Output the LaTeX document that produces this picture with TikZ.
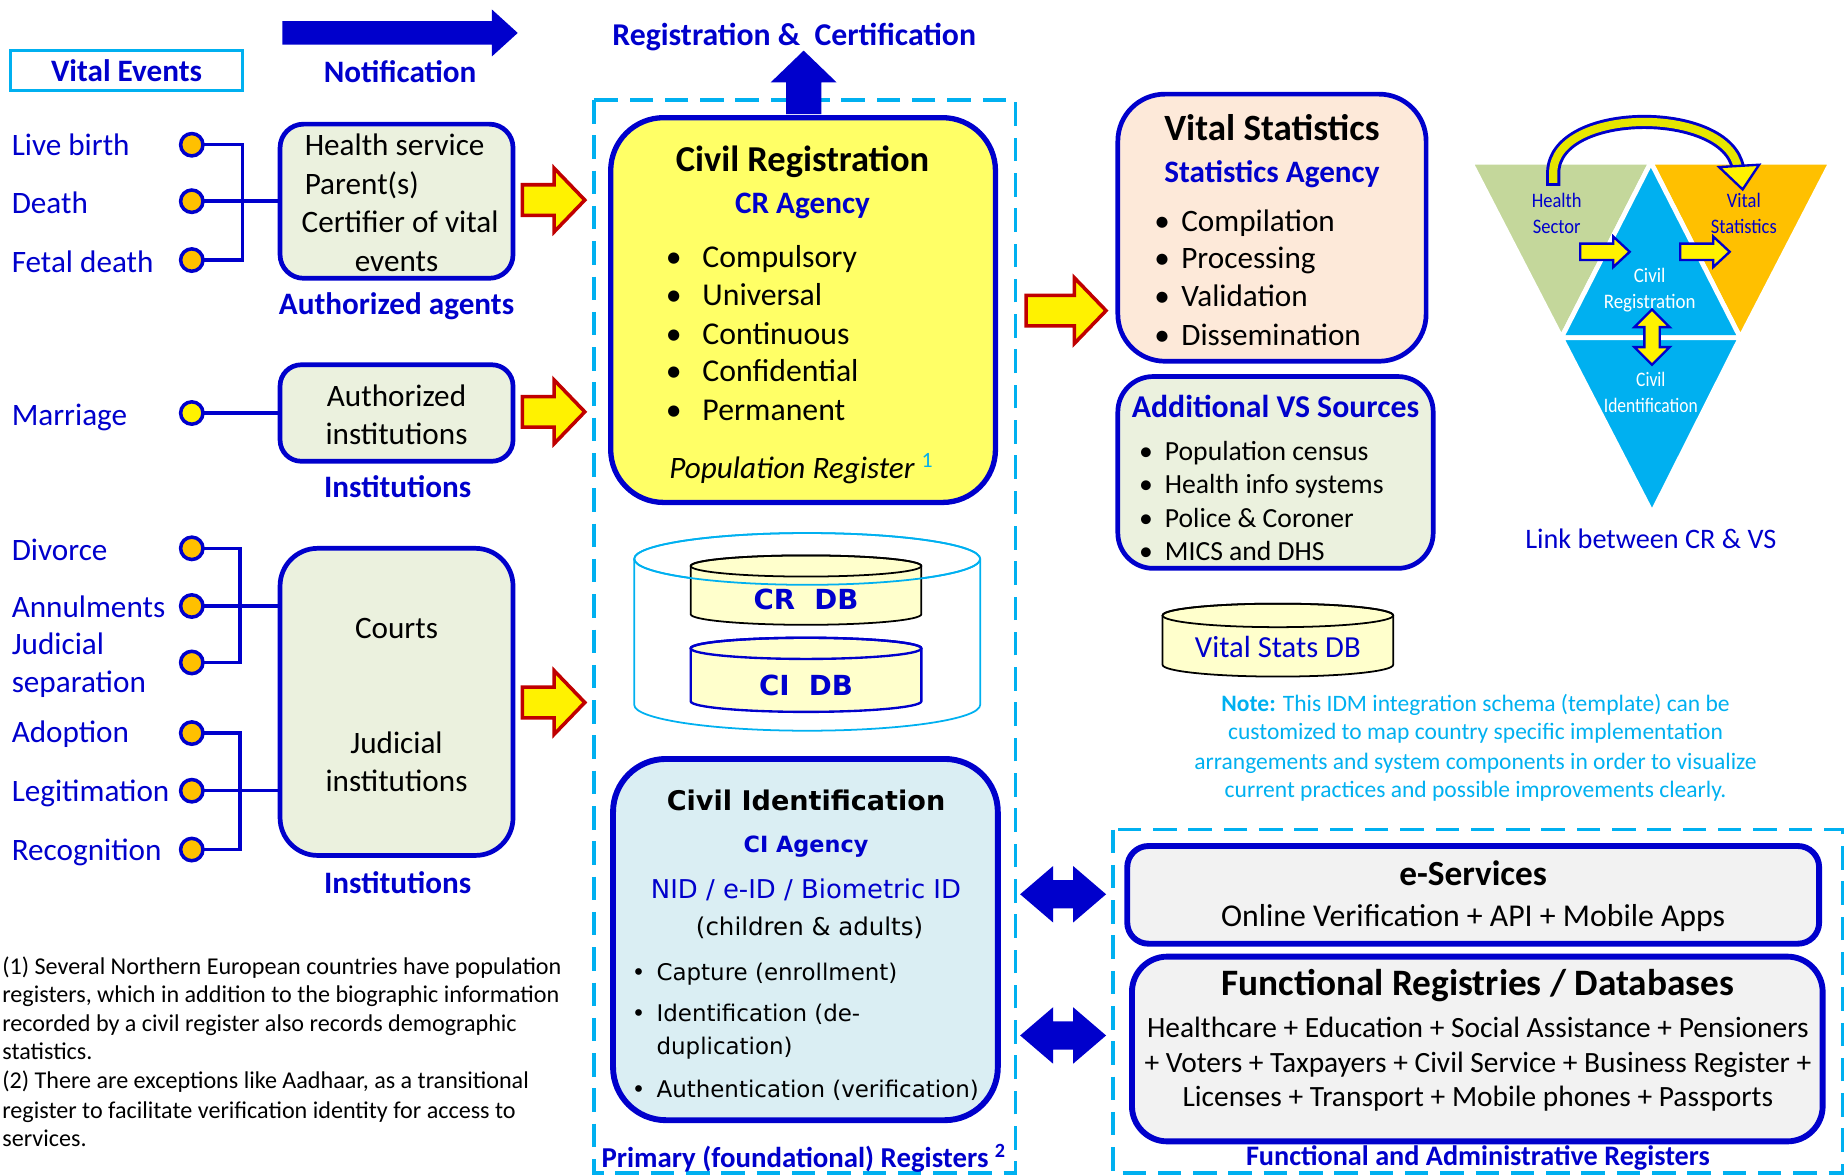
\documentclass[tikz,border=0pt]{standalone}
\usepackage{fontspec}
\usepackage{graphicx}
\setmainfont{Carlito}
\newfontfamily\dvs{DejaVu Sans}
\definecolor{myblue}{HTML}{0000CC}
\definecolor{cyanc}{HTML}{00B0F0}
\definecolor{crfill}{HTML}{FFFF66}
\definecolor{grn}{HTML}{EBF1DE}
\definecolor{peach}{HTML}{FDE9D9}
\definecolor{ltblue}{HTML}{DAEEF3}
\definecolor{ltgray}{HTML}{F2F2F2}
\definecolor{dbfill}{HTML}{FFFFCC}
\definecolor{orng}{HTML}{FFC000}
\definecolor{dred}{HTML}{C00000}
\definecolor{trigrn}{HTML}{C4D79B}
\definecolor{curvy}{HTML}{E6E600}
\newcommand\fs[1]{\fontsize{#1}{#1}\selectfont}
\newcommand\Bul[2]{\makebox[#1][l]{\textbullet}#2}
% right arrow: style, x-left, x-tip, y-centre, shaft half, head half, head length
\newcommand\ArrR[7]{\path[#1] (#2,{#4-#5}) -- ({#3-#7},{#4-#5}) -- ({#3-#7},{#4-#6}) -- (#3,#4) -- ({#3-#7},{#4+#6}) -- ({#3-#7},{#4+#5}) -- (#2,{#4+#5}) -- cycle;}
% double horizontal arrow
\newcommand\ArrD[7]{\path[#1] (#2,#4) -- ({#2+#7},{#4-#6}) -- ({#2+#7},{#4-#5}) -- ({#3-#7},{#4-#5}) -- ({#3-#7},{#4-#6}) -- (#3,#4) -- ({#3-#7},{#4+#6}) -- ({#3-#7},{#4+#5}) -- ({#2+#7},{#4+#5}) -- ({#2+#7},{#4+#6}) -- cycle;}
% double vertical arrow: style, y-top, y-bottom, x-centre, shaft half, head half, head length
\newcommand\ArrV[7]{\path[#1] (#4,#2) -- ({#4+#6},{#2+#7}) -- ({#4+#5},{#2+#7}) -- ({#4+#5},{#3-#7}) -- ({#4+#6},{#3-#7}) -- (#4,#3) -- ({#4-#6},{#3-#7}) -- ({#4-#5},{#3-#7}) -- ({#4-#5},{#2+#7}) -- ({#4-#6},{#2+#7}) -- cycle;}
% up arrow: style, y-tip, y-bottom, x-centre, shaft half, head half, head length
\newcommand\ArrU[7]{\path[#1] (#4,#2) -- ({#4+#6},{#2+#7}) -- ({#4+#5},{#2+#7}) -- ({#4+#5},#3) -- ({#4-#5},#3) -- ({#4-#5},{#2+#7}) -- ({#4-#6},{#2+#7}) -- cycle;}
\tikzset{
  every node/.style={inner sep=0pt, outer sep=0pt},
  tx/.style={anchor=mid, yshift=-5pt},
  t/.style={tx, font=\fs{26.5}},
  tl/.style={tx, anchor=mid west, font=\fs{26.5}},
  ev/.style={tx, anchor=mid west, font=\fs{26.5}, text=myblue},
  hb/.style={tx, font=\bfseries\fs{26.5}, text=myblue},
  dot/.style={circle, draw=myblue, line width=3pt, fill=orng, minimum size=19pt},
  conn/.style={draw=myblue, line width=3pt},
  box/.style={draw=myblue, line width=4pt, rounded corners=20pt},
  dbox/.style={draw=cyanc, line width=3pt, dash pattern=on 20pt off 10pt},
  yarr/.style={fill=yellow, draw=dred, line width=3pt},
  barr/.style={fill=myblue, draw=none},
  sarr/.style={fill=yellow, draw=myblue, line width=2pt},
  tri/.style={draw=white, line width=4pt, line join=round},
  ttxt/.style={tx, font=\fs{17.5}},
  note/.style={anchor=mid, yshift=-2.5pt, font=\fs{20}, text=cyanc},
  foot/.style={anchor=mid west, yshift=-2pt, font=\fs{20.5}},
}
\begin{document}
\begin{tikzpicture}[x=1pt,y=-1pt]
\useasboundingbox (0,0) rectangle (1568,999);

% ---------- dashed containers ----------
\draw[dbox] (505,85) rectangle (863,997);
\draw[dbox] (946,705) rectangle (1566,997);

% ---------- top headings ----------
\node[draw=cyanc, line width=3pt, minimum width=197pt, minimum height=34pt,
      font=\bfseries\fs{26.5}, text=myblue] (ve) at (107.5,60) {Vital Events};
\ArrR{barr}{240}{440}{28}{10}{20}{22}
\node[hb] (notif) at (340,63) {Notification};
\node[hb, font=\bfseries\fs{27}] (regcert) at (675,31) {Registration \&\ \ Certification};

% ---------- left: events ----------
\node[ev] (lb) at (10,125) {Live birth};
\node[ev] (de) at (10,174) {Death};
\node[ev] (fd) at (10,224) {Fetal death};
\node[dot] (d1) at (163,123) {};
\node[dot] (d2) at (163,171) {};
\node[dot] (d3) at (163,221) {};
\coordinate (k1) at (206,171);

\node[ev] (ma) at (10,354) {Marriage};
\node[dot, fill=yellow] (d4) at (163,351) {};

\node[ev] (dv) at (10,469) {Divorce};
\node[ev] (an) at (10,517) {Annulments};
\node[ev] (js1) at (10,549) {Judicial};
\node[ev] (js2) at (10,581) {separation};
\node[dot] (d5) at (163,466) {};
\node[dot] (d6) at (163,515) {};
\node[dot] (d7) at (163,563) {};
\coordinate (k2) at (204,515);

\node[ev] (ad) at (10,624) {Adoption};
\node[ev] (lg) at (10,674) {Legitimation};
\node[ev] (rc) at (10,724) {Recognition};
\node[dot] (d8) at (163,623) {};
\node[dot] (d9) at (163,672) {};
\node[dot] (d10) at (163,722) {};
\coordinate (k3) at (204,672);

% ---------- left boxes ----------
\node[box, fill=grn, minimum width=198pt, minimum height=131pt] (agents) at (337,171) {};
\node[tl] (ag1) at (259,125) {Health service};
\node[tl] (ag2) at (259,158) {Parent(s)};
\node[t] (ag3) at (340,190) {Certifier of vital};
\node[t] (ag4) at (337,223) {events};
\node[hb] (aglbl) at (337,260) {Authorized agents};

\node[box, fill=grn, rounded corners=18pt, minimum width=198pt, minimum height=82pt] (inst1) at (337,351) {};
\node[t] (in1) at (337,338) {Authorized};
\node[t] (in2) at (337,370) {institutions};
\node[hb] (inlbl1) at (338,415) {Institutions};

\node[box, fill=grn, rounded corners=32pt, minimum width=198pt, minimum height=261pt] (courts) at (337,596.5) {};
\node[t] (co1) at (337,535) {Courts};
\node[t] (co2) at (337,633) {Judicial};
\node[t] (co3) at (337,665) {institutions};
\node[hb] (inlbl2) at (338,752) {Institutions};

% connectors
\draw[conn] (d1.east) -| (k1) |- (d3.east);
\draw[conn] (d2.east) -- (agents.west);
\draw[conn] (d4.east) -- (inst1.west);
\draw[conn] (d5.east) -| (k2) |- (d7.east);
\draw[conn] (d6.east) -- (d6.east -| courts.west);
\draw[conn] (d8.east) -| (k3) |- (d10.east);
\draw[conn] (d9.east) -- (d9.east -| courts.west);

% yellow arrows into CR
\ArrR{yarr}{444}{497}{170}{13}{27}{26}
\ArrR{yarr}{444}{497}{350}{13}{27}{26}
\ArrR{yarr}{444}{497}{597}{13}{27}{26}

% ---------- Civil Registration ----------
\node[box, fill=crfill, line width=4.5pt, rounded corners=45pt, minimum width=327pt, minimum height=327pt] (cr) at (682.5,263.5) {};
\ArrU{barr}{43}{97}{683}{15}{28}{27}
\node[tx, font=\bfseries\fs{31}] (crt) at (682,138) {Civil Registration};
\node[hb] (cra) at (682,174) {CR Agency};
\node[tl, font=\fs{27}] (cr1) at (566,220) {\Bul{31pt}{Compulsory}};
\node[tl, font=\fs{27}] (cr2) at (566,252) {\Bul{31pt}{Universal}};
\node[tl, font=\fs{27}] (cr3) at (566,285) {\Bul{31pt}{Continuous}};
\node[tl, font=\fs{27}] (cr4) at (566,317) {\Bul{31pt}{Confidential}};
\node[tl, font=\fs{27}] (cr5) at (566,350) {\Bul{31pt}{Permanent}};
\node[tx, font=\itshape\fs{26.5}] (crp) at (681,399) {Population Register \textsuperscript{\textcolor{cyanc}{\upshape 1}}};

% ---------- databases ----------
\draw[cyanc, line width=1.5pt] (539,475) -- (539,599) arc[start angle=180, end angle=360, x radius=147pt, y radius=22pt] -- (833,475);
\draw[cyanc, line width=1.5pt] (686,475) ellipse[x radius=147pt, y radius=22pt];

\filldraw[fill=dbfill, draw=black, line width=1.5pt] (587,481) -- (587,522) arc[start angle=180,end angle=360,x radius=98pt,y radius=9pt] -- (783,481) arc[start angle=0,end angle=180,x radius=98pt,y radius=9pt] -- cycle;
\draw[black, line width=1.5pt] (685,481) ellipse[x radius=98pt,y radius=9pt];
\node[tx, font=\dvs\bfseries\fs{23.5}, text=myblue] (crdb) at (685,511) {CR\ \ DB};

\filldraw[fill=dbfill, draw=myblue, line width=2pt] (587,551) -- (587,596) arc[start angle=180,end angle=360,x radius=98pt,y radius=9pt] -- (783,551) arc[start angle=0,end angle=180,x radius=98pt,y radius=9pt] -- cycle;
\draw[myblue, line width=2pt] (685,551) ellipse[x radius=98pt,y radius=9pt];
\node[tx, font=\dvs\bfseries\fs{23.5}, text=myblue] (cidb) at (685,584) {CI\ \ DB};

\draw[cyanc, line width=1.5pt] (686,475) ellipse[x radius=147pt, y radius=22pt];

% ---------- Civil Identification ----------
\node[box, fill=ltblue, line width=5pt, rounded corners=45pt, minimum width=327pt, minimum height=307pt] (ci) at (684.5,798.5) {};
\node[tx, font=\dvs\bfseries\fs{23}] (cit) at (685,681) {Civil Identification};
\node[tx, font=\dvs\bfseries\fs{19}, text=myblue] (cia) at (685,717) {CI Agency};
\node[tx, font=\dvs\fs{22}, text=myblue] (cin) at (685,756) {NID / e-ID / Biometric ID};
\node[tx, font=\dvs\fs{20.8}] (cic) at (688,788) {(children \& adults)};
\node[tx, anchor=mid west, font=\dvs\fs{19.5}] (ci1) at (537,826) {\Bul{21pt}{Capture (enrollment)}};
\node[tx, anchor=mid west, font=\dvs\fs{19.5}] (ci2) at (537,861) {\Bul{21pt}{Identification (de-}};
\node[tx, anchor=mid west, font=\dvs\fs{19.5}] (ci3) at (558,889) {duplication)};
\node[tx, anchor=mid west, font=\dvs\fs{19.5}] (ci4) at (537,925) {\Bul{21pt}{Authentication (verification)}};
\node[tx, font=\bfseries\fs{24.5}, text=myblue] (prim) at (683,985) {Primary (foundational) Registers \textsuperscript{2}};

% ---------- Vital statistics ----------
\ArrR{yarr}{872}{940}{264}{13}{28}{27}
\node[box, fill=peach, rounded corners=40pt, minimum width=262pt, minimum height=227pt] (vs) at (1081,193.5) {};
\node[tx, font=\bfseries\fs{31.5}] (vst) at (1081,112) {Vital Statistics};
\node[hb] (vsa) at (1081,148) {Statistics Agency};
\node[tl] (vs1) at (981,189) {\Bul{23pt}{Compilation}};
\node[tl] (vs2) at (981,221) {\Bul{23pt}{Processing}};
\node[tl] (vs3) at (981,253) {\Bul{23pt}{Validation}};
\node[tl] (vs4) at (981,286) {\Bul{23pt}{Dissemination}};

\node[box, fill=grn, rounded corners=30pt, minimum width=268pt, minimum height=163pt] (add) at (1084,401.5) {};
\node[hb, font=\bfseries\fs{27}] (addt) at (1084,347) {Additional VS Sources};
\node[tl, font=\fs{23.5}] (ad1) at (968,384) {\Bul{22pt}{Population census}};
\node[tl, font=\fs{23.5}] (ad2) at (968,412) {\Bul{22pt}{Health info systems}};
\node[tl, font=\fs{23.5}] (ad3) at (968,441) {\Bul{22pt}{Police \& Coroner}};
\node[tl, font=\fs{23.5}] (ad4) at (968,469) {\Bul{22pt}{MICS and DHS}};

\filldraw[fill=dbfill, draw=black, line width=1.5pt] (988,523) -- (988,565) arc[start angle=180,end angle=360,x radius=98pt,y radius=10pt] -- (1184,523) arc[start angle=0,end angle=180,x radius=98pt,y radius=10pt] -- cycle;
\draw[black, line width=1.5pt] (1086,523) ellipse[x radius=98pt,y radius=10pt];
\node[tx, font=\fs{26}, text=myblue] (vsdb) at (1086,551) {Vital Stats DB};

\node[note] (n1) at (1254,600) {\textbf{Note:} This IDM integration schema (template) can be};
\node[note] (n2) at (1254,624) {customized to map country specific implementation};
\node[note] (n3) at (1254,649) {arrangements and system components in order to visualize};
\node[note] (n4) at (1254,673) {current practices and possible improvements clearly.};

% ---------- triangle diagram ----------
\path[tri, fill=trigrn] (1250,138) -- (1403,138) -- (1327,287) -- cycle;
\path[tri, fill=orng] (1403,138) -- (1556,138) -- (1479,287) -- cycle;
\path[tri, fill=cyanc] (1403,138) -- (1479,287) -- (1327,287) -- cycle;
\path[tri, fill=cyanc] (1327,287) -- (1479,287) -- (1404,436) -- cycle;
\node[ttxt, text=myblue] (hs1) at (1323,169) {\scalebox{0.9}[1]{Health}};
\node[ttxt, text=myblue] (hs2) at (1323,191) {\scalebox{0.9}[1]{Sector}};
\node[ttxt, text=myblue] (vt1) at (1482,169) {\scalebox{0.9}[1]{Vital}};
\node[ttxt, text=myblue] (vt2) at (1482,191) {\scalebox{0.9}[1]{Statistics}};
\node[ttxt, text=white] (tc1) at (1402,233) {\scalebox{0.92}[1]{Civil}};
\node[ttxt, text=white] (tc2) at (1402,255) {\scalebox{0.92}[1]{Registration}};
\node[ttxt, text=white] (ti1) at (1403,321) {\scalebox{0.85}[1]{Civil}};
\node[ttxt, text=white] (ti2) at (1403,343) {\scalebox{0.85}[1]{Identification}};
\ArrR{sarr}{1343}{1385}{214}{7}{13}{14}
\ArrR{sarr}{1428}{1470}{214}{7}{13}{14}
\ArrV{sarr}{263}{310}{1404}{6.5}{15}{15}
\draw[myblue, line width=12pt] (1320,158) -- (1320,146) .. controls (1322,90) and (1468,90) .. (1477,143);
\draw[curvy, line width=7pt] (1320,155.5) -- (1320,146) .. controls (1322,90) and (1468,90) .. (1477,143);
\path[sarr] (1461,142) -- (1495,140) -- (1481,161) -- cycle;
\node[tx, font=\fs{24}, text=myblue] (link) at (1403,459) {Link between CR \& VS};

% ---------- double arrows ----------
\ArrD{barr}{867}{940}{760}{12}{24}{28}
\ArrD{barr}{867}{940}{880}{12}{24}{28}

% ---------- functional registers ----------
\node[box, fill=ltgray, line width=5pt, rounded corners=18pt, minimum width=588pt, minimum height=83pt] (es) at (1252,760.5) {};
\node[tx, font=\bfseries\fs{30}] (est) at (1252,745) {e-Services};
\node[t, font=\fs{27}] (es1) at (1252,780) {Online Verification + API + Mobile Apps};
\node[box, fill=ltgray, line width=5pt, rounded corners=30pt, minimum width=587pt, minimum height=157pt] (fr) at (1255.5,891.5) {};
\node[tx, font=\bfseries\fs{31.7}] (frt) at (1256,839) {Functional Registries / Databases};
\node[t, font=\fs{25}] (fr1) at (1256,874) {Healthcare + Education + Social Assistance + Pensioners};
\node[t, font=\fs{25}] (fr2) at (1256,904) {+ Voters + Taxpayers + Civil Service + Business Register +};
\node[t, font=\fs{25}] (fr3) at (1256,933) {Licenses + Transport + Mobile phones + Passports};
\node[tx, font=\bfseries\fs{24}, text=myblue] (func) at (1256,983) {Functional and Administrative Registers};

% ---------- footnotes ----------
\node[foot] (f1) at (2,824) {(1) Several Northern European countries have population};
\node[foot] (f2) at (2,848) {registers, which in addition to the biographic information};
\node[foot] (f3) at (2,872) {recorded by a civil register also records demographic};
\node[foot] (f4) at (2,896) {statistics.};
\node[foot] (f5) at (2,921) {(2) There are exceptions like Aadhaar, as a transitional};
\node[foot] (f6) at (2,946) {register to facilitate verification identity for access to};
\node[foot] (f7) at (2,970) {services.};
\end{tikzpicture}
\end{document}
